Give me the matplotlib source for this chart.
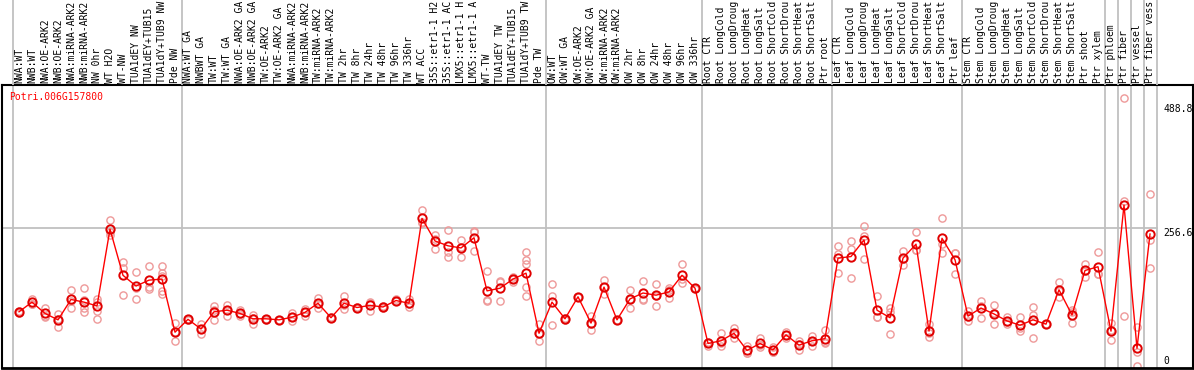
import matplotlib
matplotlib.use('Agg')
import matplotlib.pyplot as plt

# Sample labels, left to right (shown cut to 14 characters, as in the source)
labels = [
    'NWA:WT', 'NWB:WT', 'NWA:OE-ARK2', 'NWB:OE-ARK2', 'NWA:miRNA-ARK2',
    'NWB:miRNA-ARK2', 'NW 0hr', 'WT H2O', 'WT-NW', 'TUA1dEY NW',
    'TUA1dEY+TUB15', 'TUA1dY+TUB9 NW', 'Pde NW',
    'NWA:WT GA', 'NWBWT GA', 'TW:WT', 'TW:WT GA', 'NWA:OE-ARK2 GA',
    'NWB:OE-ARK2 GA', 'TW:OE-ARK2', 'TW:OE-ARK2 GA', 'NWA:miRNA-ARK2',
    'NWB:miRNA-ARK2', 'TW:miRNA-ARK2', 'TW:miRNA-ARK2', 'TW 2hr', 'TW 8hr',
    'TW 24hr', 'TW 48hr', 'TW 96hr', 'TW 336hr', 'WT ACC',
    '35S::etr1-1 H2', '35S::etr1-1 AC', 'LMX5::etr1-1 H',
    'LMX5::etr1-1 A', 'WT-TW', 'TUA1dEY TW', 'TUA1dEY+TUB15',
    'TUA1dY+TUB9 TW', 'Pde TW',
    'OW:WT', 'OW:WT GA', 'OW:OE-ARK2', 'OW:OE-ARK2 GA', 'OW:miRNA-ARK2',
    'OW:miRNA-ARK2', 'OW 2hr', 'OW 8hr', 'OW 24hr', 'OW 48hr', 'OW 96hr',
    'OW 336hr',
    'Root CTR', 'Root LongCold', 'Root LongDroug', 'Root LongHeat',
    'Root LongSalt', 'Root ShortCold', 'Root ShortDrou', 'Root ShortHeat',
    'Root ShortSalt', 'Ptr root',
    'Leaf CTR', 'Leaf LongCold', 'Leaf LongDroug', 'Leaf LongHeat',
    'Leaf LongSalt', 'Leaf ShortCold', 'Leaf ShortDrou', 'Leaf ShortHeat',
    'Leaf ShortSalt', 'Ptr leaf',
    'Stem CTR', 'Stem LongCold', 'Stem LongDroug', 'Stem LongHeat',
    'Stem LongSalt', 'Stem ShortCold', 'Stem ShortDrou', 'Stem ShortHeat',
    'Stem ShortSalt', 'Ptr shoot', 'Ptr xylem',
    'Ptr phloem', 'Ptr fiber', 'Ptr vessel', 'Ptr fiber vess',
]

# mean expression per sample
means = [
    101, 119, 98, 86, 124, 119, 112, 255, 169, 149, 160, 162, 63,
    87, 69, 101, 104, 98, 88, 88, 86, 91, 100, 117, 90, 117, 109, 113, 110,
    122, 117, 275, 233, 224, 220, 239, 140, 145, 162, 173, 61,
    119, 88, 129, 80, 147, 86, 125, 136, 132, 138, 169, 145,
    42, 47, 61, 29, 42, 30, 58, 39, 47, 51,
    201, 204, 235, 104, 90, 201, 227, 65, 238, 198,
    93, 108, 97, 84, 76, 86, 78, 142, 95, 178, 185,
    65, 300, 33, 246,
]

# replicate values per sample
reps = [
    [99, 101, 102], [125, 116, 115], [109, 92, 94], [96, 73, 88],
    [142, 109, 122], [145, 109, 100, 123], [124, 120, 102, 87],
    [272, 244, 249], [194, 182, 132], [175, 125, 146], [186, 148, 143],
    [186, 174, 168, 139, 134], [80, 46, 63],
    [87, 86, 88], [78, 60, 69], [112, 86, 104], [113, 94, 104],
    [105, 96, 94], [95, 79, 89], [88, 87, 86], [86, 85, 86], [99, 83, 92],
    [106, 94, 100], [127, 109, 115], [90, 89, 91], [130, 106, 114],
    [109, 110, 109], [119, 103, 117], [110, 111, 109], [125, 121, 121],
    [124, 110, 116], [291, 266, 269], [245, 218, 236], [253, 212, 203],
    [235, 203, 222], [252, 214, 249], [177, 121, 123], [159, 121, 156],
    [166, 157, 163], [212, 198, 190, 148, 131], [78, 46, 59],
    [153, 130, 76], [88, 86, 90], [129, 128, 129], [93, 68, 78],
    [160, 134, 147], [86, 85, 86], [142, 108, 125], [158, 123, 125],
    [152, 112, 131], [146, 126, 142], [190, 154, 163], [145, 144, 146],
    [38, 42, 45], [61, 38, 42], [71, 52, 60], [38, 24, 24], [52, 35, 40],
    [36, 27, 27], [64, 52, 58], [47, 29, 41], [56, 37, 47], [67, 42, 44],
    [224, 209, 173], [233, 218, 164], [261, 242, 199], [130, 91, 92],
    [108, 60, 100], [214, 188, 200], [250, 216, 216], [78, 54, 62],
    [276, 210, 228], [211, 171, 210],
    [103, 84, 92], [122, 89, 112], [114, 78, 99], [92, 78, 82],
    [91, 66, 71], [110, 95, 52], [78, 79, 78], [157, 129, 139],
    [104, 81, 100], [190, 166, 177], [213, 171, 171],
    [81, 48, 67], [499, 308, 93], [73, 0, 26], [321, 234, 182],
]

group_breaks = [-0.5, 12.5, 40.5, 52.5, 62.5, 72.5, 83.5, 84.5, 85.5, 86.5, 87.5]
ref_lines = [256.6]
ytick_vals = [488.8, 256.6, 0]
ytick_text = ['488.8', '256.6', '0']
gene = 'Potri.006G157800'

W, H = 1194, 370
mono = 'DejaVu Sans Mono'
grey = '#c0c0c0'
fs = 7.0

fig = plt.figure(figsize=(W / 100, H / 100), dpi=100)

x0 = (1.5 - 19) / 13
x1 = (1192.5 - 19) / 13
ppu = 0.5366  # pixels per unit
ymin = -(368 - 366) / ppu
ymax = (366 - 85) / ppu

ax = fig.add_axes([1.5 / W, 2 / H, 1191 / W, 283 / H])
ax.set_xlim(x0, x1)
ax.set_ylim(ymin, ymax)
for s in ax.spines.values():
    s.set_linewidth(1.5)
    s.set_color('black')
ax.spines['bottom'].set_linewidth(2)
ax.set_xticks([])
ax.set_yticks([])

for b in group_breaks:
    ax.axvline(b, color=grey, lw=1.3, zorder=1)
for r in ref_lines:
    ax.plot([x0, 87.5], [r, r], color=grey, lw=1.3, zorder=1)

xs = list(range(len(means)))
for i, rv in enumerate(reps):
    ax.plot([i] * len(rv), rv, 'o', ms=5.2, mfc='none', mec='#ee9999',
            mew=1.0, zorder=2)
ax.plot(xs, means, '-', color='red', lw=1.0, zorder=3)
ax.plot(xs, means, 'o', ms=6, mfc='none', mec='#e00000', mew=1.4, zorder=4)

for v, t in zip(ytick_vals, ytick_text):
    va = 'bottom' if v == 0 else 'top'
    ax.text((1163 - 19) / 13, v, t, ha='left', va=va, family=mono,
            fontsize=fs, color='black', clip_on=False)

# header with rotated labels
hx = fig.add_axes([1.5 / W, 285 / H, 1191 / W, 85 / H])
hx.set_xlim(x0, x1)
hx.set_ylim(85, 0)
hx.axis('off')
for b in group_breaks:
    hx.axvline(b, color=grey, lw=1.3, zorder=1)
for i, lab in enumerate(labels):
    hx.text(i, 83, lab, rotation=90, ha='center', va='bottom', family=mono,
            fontsize=fs, color='black', clip_on=False)

fig.text(9 / W, 1 - 97 / H, gene, color='red', family=mono, fontsize=fs,
         ha='left', va='center')

plt.savefig('out.png', dpi=100)
